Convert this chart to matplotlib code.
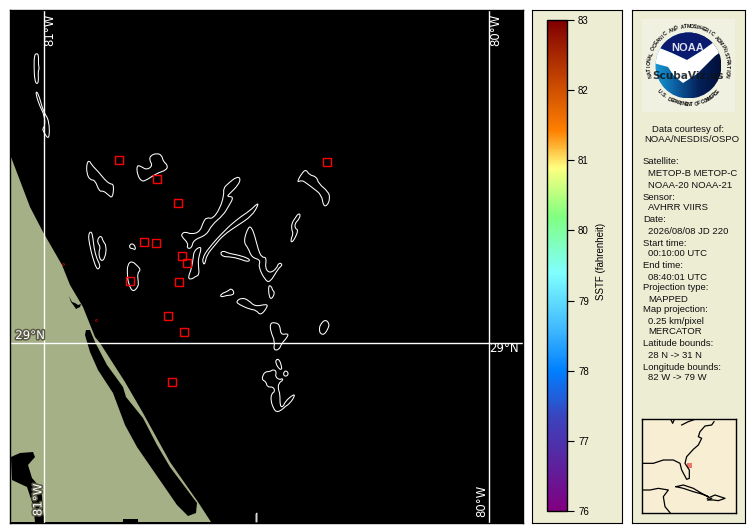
import numpy as np
import matplotlib
matplotlib.use('Agg')
import matplotlib.pyplot as plt
from matplotlib.colors import LinearSegmentedColormap, Normalize
from matplotlib.cm import ScalarMappable
from matplotlib.patches import Rectangle, Polygon, Circle, PathPatch
from matplotlib.path import Path
import matplotlib.patheffects as pe

W, H = 755, 532
plt.rcParams['font.family'] = ['Liberation Sans', 'DejaVu Sans']

PANEL = '#ecedd3'
LAND = '#a5b086'

# map features in pixels
land = [(11,157),(30,207),(43,232),(62,265),(70,285),(83,307),(95,337),(100,343),(125,382),(143,413),
        (170,462),(198,502),(211,522),(11,522)]
lagoon = [(86,330),(90,330),(95,342),(107,365),(123,387),(126,397),(143,418),(157,445),(170,467),(197,503),
          (196,513),(188,516),(177,505),(137,447),(125,425),(113,393),(98,370),(90,352),(85,335)]
lake = [(11,457),(20,453),(33,452),(35,457),(28,465),(32,478),(38,485),(42,495),(43,512),(45,522),(35,522),
        (33,505),(27,487),(12,480)]
inlet = [(69,296),(72,302),(75,303),(78,305),(81,304),(80,307),(76,309),(74,306),(71,302)]
notch = [(123,519),(138,519),(138,522),(123,522)]

# sstf contours: zoom coordinates, converted with zoom origin below
top_left = [
    [(103,165),(110,160),(116,165),(115,195),(118,205),(114,215),(116,245),(110,253),(104,240),(102,200)],
    [(109,272),(118,290),(130,335),(148,362),(148,422),(130,395),(128,385),(135,378),(133,345),(120,320),(108,285)],
    [(260,490),(268,481),(275,495),(295,515),(315,540),(330,552),(342,553),(338,595),(325,585),(310,572),(298,575),(285,540),(270,540),(260,520)],
    [(410,495),(425,500),(440,510),(458,497),(448,480),(452,466),(470,460),(485,465),(490,485),(503,495),(500,510),(470,520),(440,540),(425,545),(412,525)],
    [(390,745),(388,735),(398,730),(406,740),(406,750),(397,745)],
    [(265,705),(272,693),(278,705),(282,745),(290,775),(300,795),(298,805),(290,808),(277,770),(268,730)],
    [(295,712),(305,708),(308,722),(320,738),(315,775),(303,785),(295,760),(302,740),(292,728)],
    [(382,795),(395,782),(415,800),(422,810),(412,820),(415,845),(415,860),(398,877),(385,850),(382,825)],
]
middle = [
    [(35,282),(45,275),(65,283),(90,275),(100,245),(110,232),(128,237),(150,205),(162,165),(160,145),(175,130),(200,110),(212,115),(205,135),(180,160),(170,170),(192,170),(175,200),(160,225),(125,255),(110,285),(70,300),(65,325),(50,325),(55,310),(35,290)],
    [(100,372),(97,355),(115,325),(165,270),(205,235),(240,212),(262,190),(265,195),(245,228),(205,255),(160,285),(135,315),(110,345),(105,372)],
    [(72,335),(85,322),(95,323),(85,355),(85,375),(88,405),(75,410),(65,418),(53,415),(65,385),(70,350)],
    [(150,340),(160,332),(175,340),(205,345),(235,355),(240,362),(230,365),(205,355),(175,350),(160,350)],
    [(235,260),(245,262),(255,290),(265,330),(275,352),(290,352),(285,385),(300,400),(320,385),(325,370),(335,370),(335,378),(325,385),(300,428),(285,420),(265,380),(272,360),(245,352),(235,325),(220,305)],
    [(380,128),(395,100),(408,88),(418,105),(440,110),(445,130),(475,155),(480,175),(472,197),(460,198),(455,165),(430,145),(410,130),(395,120)],
    [(365,250),(375,235),(385,220),(392,225),(385,240),(375,250),(375,265),(385,270),(375,295),(365,308),(362,300),(370,280),(365,270)],
    [(152,462),(175,453),(183,445),(192,455),(190,465),(170,466),(152,472)],
    [(197,485),(215,473),(235,480),(255,500),(290,492),(293,500),(272,527),(258,510),(240,508),(210,495)],
    [(295,435),(305,440),(307,450),(315,458),(305,478),(297,470)],
]
lower = [
    [(120,70),(135,67),(150,75),(152,105),(175,100),(172,112),(155,130),(147,150),(130,150),(135,125),(122,95)],
    [(268,88),(270,75),(285,58),(298,70),(295,85),(282,105),(270,100)],
    [(138,178),(148,178),(155,200),(155,208),(148,208),(137,190)],
    [(162,215),(170,212),(176,222),(168,230),(160,225)],
    [(97,230),(105,215),(120,215),(130,208),(140,215),(135,230),(150,240),(155,235),(160,240),(145,250),(145,270),(150,280),(150,320),(160,320),(165,305),(190,283),(195,287),(180,310),(165,320),(155,330),(140,337),(130,325),(122,300),(125,280),(135,275),(130,260),(112,262),(108,245),(97,240)],
]

box_x = [119,157,178,144,156,182,187,130,179,168,184,172,327]
box_y = [160,179,203,242,243,256,263,281,282,316,332,382,162]

cb_values = [76, 77, 78, 79, 80, 81, 82, 83]
cb_stops = [0.0, 0.19, 0.285, 0.37, 0.485, 0.6, 0.7, 0.775, 1.0]
cb_colors = ['#800080', '#3a44bd', '#0080ff', '#40b8ff', '#80ffff', '#80ff80', '#ffff80', '#ff8000', '#800000']

info_lines = [
    (129, 'Data courtesy of:', 652), (140, 'NOAA/NESDIS/OSPO', 644),
    (162, 'Satellite:', 643), (173, 'METOP-B METOP-C', 648), (185, 'NOAA-20 NOAA-21', 648),
    (197, 'Sensor:', 643), (208, 'AVHRR VIIRS', 648), (219, 'Date:', 643),
    (231, '2026/08/08 JD 220', 648), (243, 'Start time:', 643), (254, '00:10:00 UTC', 648),
    (265, 'End time:', 643), (277, '08:40:01 UTC', 648), (288, 'Projection type:', 643),
    (299, 'MAPPED', 648), (310, 'Map projection:', 643), (321, '0.25 km/pixel', 648),
    (332, 'MERCATOR', 648), (344, 'Latitude bounds:', 643), (355, '28 N -> 31 N', 648),
    (367, 'Longitude bounds:', 643), (378, '82 W -> 79 W', 648),
]

inset_lines = [
    [(252,395),(245,405),(225,408),(210,425),(205,440),(215,445),(205,465),(190,478),(170,500),(165,520),(178,540),(178,565),(170,568),(155,540),(150,520),(130,510),(100,510),(70,520),(37,520)],
    [(122,388),(128,400),(133,388)],
    [(155,405),(175,395),(195,388)],
    [(138,590),(160,585),(190,595),(215,610),(235,620),(215,612),(190,605),(160,595),(138,590)],
    [(232,625),(255,615),(285,625),(265,632),(250,630),(232,630),(245,625)],
    [(37,600),(60,600),(85,595),(115,600),(100,620),(105,650),(120,668)],
]


def add_px_axes(x0, y0, x1, y1):
    # axes whose data units are reference pixels
    ax = fig.add_axes([x0 / W, 1 - y1 / H, (x1 - x0) / W, (y1 - y0) / H])
    ax.set_xlim(x0, x1)
    ax.set_ylim(y1, y0)
    ax.set_xticks([])
    ax.set_yticks([])
    return ax


def zoomed(points, x0, y0):
    return [(x0 + x / 3, y0 + y / 3) for x, y in points]


def rounded_path(points):
    # closed quadratic path, the read points act as control points
    pts = np.array(points, dtype=float)
    mids = (pts + np.roll(pts, -1, axis=0)) / 2
    verts = [mids[-1]]
    codes = [Path.MOVETO]
    for p, m in zip(pts, mids):
        verts += [p, m]
        codes += [Path.CURVE3, Path.CURVE3]
    return Path(verts, codes)


fig = plt.figure(figsize=(W / 100, H / 100), dpi=100, facecolor='white')

# main map
ax = add_px_axes(10, 10, 523, 522.5)
ax.set_facecolor('black')
ax.add_patch(Polygon(land, fc=LAND, ec='none'))
for shape in (lagoon, lake, inlet, notch):
    ax.add_patch(Polygon(shape, fc='black', ec='none'))

groups = [(top_left, 0, 0), (middle, 170, 140), (lower, 230, 300)]
for shapes, ox, oy in groups:
    for shape in shapes:
        ax.add_patch(PathPatch(rounded_path(zoomed(shape, ox, oy)), fc='none', ec='white', lw=0.75))
ax.plot([256, 256, 257, 257], [522, 514, 513, 522], color='white', lw=0.6)

for bx, by in zip(box_x, box_y):
    ax.add_patch(Rectangle((bx - 3.6, by - 3.6), 7.2, 7.2, fc='none', ec='#ff0000', lw=1.0))
ax.plot([63, 96], [264, 320], ls='none', marker='o', ms=1.5, mfc='none', mec='#c00000', mew=0.5)

ax.axvline(43.5, color='white', lw=1.0)
ax.axvline(489, color='white', lw=1.0)
ax.axhline(342.5, color='white', lw=1.0)

halo = [pe.withStroke(linewidth=2.2, foreground='#5a5a46')]
label_kw = dict(color='white', fontsize=8.5, family='DejaVu Sans', ha='center', va='center')
ax.text(50, 30, '81°W', rotation=90, **label_kw)
ax.text(38, 500, '81°W', rotation=90, path_effects=halo, **label_kw)
ax.text(495.5, 30, '80°W', rotation=90, **label_kw)
ax.text(482, 501, '80°W', rotation=90, **label_kw)
ax.text(30, 335.5, '29°N', path_effects=halo, **label_kw)
ax.text(504, 349, '29°N', **label_kw)
for s in ax.spines.values():
    s.set_linewidth(1.0)

# colorbar panel
pax = add_px_axes(532, 10, 622, 522.5)
pax.set_facecolor(PANEL)
cmap = LinearSegmentedColormap.from_list('sstf', list(zip(cb_stops, cb_colors)), N=256)
cax = fig.add_axes([546.5 / W, 1 - 511 / H, 20.5 / W, 491 / H])
cb = fig.colorbar(ScalarMappable(Normalize(76, 83), cmap), cax=cax, ticks=cb_values)
cb.ax.tick_params(length=5, width=0.8, pad=3, labelsize=7)
cb.outline.set_linewidth(1.0)
pax.text(601, 261, 'SSTF (fahrenheit)', rotation=90, fontsize=7, ha='center', va='center')

# info panel
iax = add_px_axes(632, 10, 745, 522.5)
iax.set_facecolor(PANEL)
for y, line, x in info_lines:
    iax.text(x, y, line, fontsize=6.8, ha='left', va='center', color='#101010')

# logo
lax = add_px_axes(642, 19, 735, 112)
lax.set_facecolor('#f1f1e2')
for s in lax.spines.values():
    s.set_visible(False)
cx, cy, r = 688.5, 65.5, 33
disc = Circle((cx, cy), r, transform=lax.transData, fc='none', ec='none')
lax.add_patch(disc)
grad = np.linspace(0, 1, 128).reshape(1, -1)
logo_cmap = LinearSegmentedColormap.from_list('logo', ['#1a9ad6', '#0a5a9c', '#04215a', '#020f38'])
im = lax.imshow(grad, extent=(cx - r, cx + r, cy + r, cy - r), cmap=logo_cmap, aspect='auto', zorder=1)
im.set_clip_path(disc)
upper_wave = [(650,30),(726,30),(726,37),(718,39),(703,50),(687,60),(672,53),(657,47),(650,45)]
white_wave = [(650,45),(657,47),(672,53),(687,60),(703,50),(718,39),(726,37),(726,48),(715,56),(697,74),(683,83),(674,76),(668,67),(650,62)]
up = lax.add_patch(Polygon(upper_wave, fc='#0a1a6e', ec='none', zorder=2))
up.set_clip_path(disc)
wh = lax.add_patch(Polygon(white_wave, fc='white', ec='none', zorder=3))
wh.set_clip_path(disc)
lax.set_xlim(642, 735)
lax.set_ylim(112, 19)
lax.text(688, 48, 'NOAA', color='#dfe2ee', fontsize=8, fontweight='bold', ha='center', va='center', zorder=4)


def ring_text(text, start, stop, radius, flip):
    # one letter at a time round the disc
    for ch, a in zip(text, np.linspace(start, stop, len(text))):
        tx = cx + radius * np.cos(np.radians(a))
        ty = cy - radius * np.sin(np.radians(a))
        rot = a + 90 if flip else a - 90
        lax.text(tx, ty, ch, rotation=rot, fontsize=3.7, fontweight='bold', ha='center', va='center',
                 color='#101010', rotation_mode='anchor', zorder=4)


ring_text('NATIONAL OCEANIC AND ATMOSPHERIC ADMINISTRATION', 195, -15, 39, False)
ring_text('U.S. DEPARTMENT OF COMMERCE', 222, 318, 39, True)
lax.text(688, 76, 'ScubaViz.us', color='#0c1418', alpha=0.85, fontsize=7.6, family='DejaVu Sans',
         fontweight='bold', ha='center', va='center', zorder=5)

# locator map
mini = add_px_axes(642, 419, 736, 513)
mini.set_facecolor('#f8eed3')
for line in inset_lines:
    pts = np.array(zoomed(line, 630, 290))
    mini.plot(pts[:, 0], pts[:, 1], color='black', lw=0.9)
mini.add_patch(Rectangle((686.5, 462.5), 5, 5, fc='#e8584e', ec='none', alpha=0.8))
for s in mini.spines.values():
    s.set_linewidth(1.0)

fig.savefig('out.png', dpi=100)
